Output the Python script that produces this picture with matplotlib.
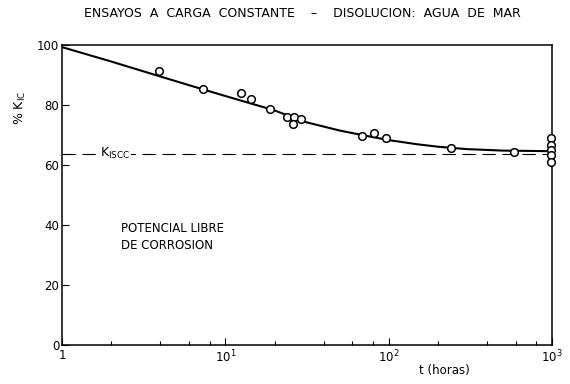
import matplotlib
matplotlib.use("Agg")
import matplotlib.pyplot as plt
from matplotlib.ticker import FixedLocator

# puntos experimentales (t en horas, % KIC)
t_pts = [3.9, 7.3, 12.4, 14.4, 18.8, 24.0, 26.5, 26.0, 28.9, 69, 81, 96, 241, 582,
         985, 985, 985, 985, 985]
k_pts = [91.2, 85.2, 83.9, 81.9, 78.8, 76.0, 76.0, 73.6, 75.4, 69.7, 70.7, 69.0, 65.5, 64.3,
         69.0, 66.7, 65.0, 63.3, 61.0]

# curva trazada a mano
t_curve = [1, 2, 4, 7, 10, 15, 20, 30, 50, 70, 100, 150, 200, 300, 500, 1000]
k_curve = [99.3, 94.5, 89.5, 85.5, 83.0, 80.2, 78.2, 74.5, 71.5, 69.9, 68.3, 66.9, 66.1, 65.3, 64.8, 64.6]

k_iscc = 63.5

plt.rcParams['font.family'] = ['DejaVu Sans']
fig = plt.figure(figsize=(5.7, 3.84), dpi=100)
ax = fig.add_axes([0.1088, 0.1016, 0.8596, 0.7812])

ax.plot(t_curve, k_curve, color='black', lw=1.5, zorder=2)
ax.plot(t_pts, k_pts, 'o', mfc='white', mec='black', ms=5.5, mew=1.1, zorder=3, clip_on=False)
ax.axhline(k_iscc, color='black', lw=0.8, dashes=(12, 6), zorder=1)
ax.text(2.1, k_iscc + 0.5, r'K$_{\rm ISCC}$', ha='center', va='center', fontsize=9,
        bbox=dict(facecolor='white', edgecolor='none', pad=1), zorder=2)

ax.text(2.3, 36, 'POTENCIAL LIBRE\nDE CORROSION', fontsize=8.5, va='center', ha='left',
        linespacing=1.4)

ax.set_xscale('log')
ax.set_xlim(1, 1000)
ax.set_ylim(0, 100)
ax.xaxis.set_major_locator(FixedLocator([1, 10, 100, 1000]))
ax.set_xticklabels(['1', r'10$^1$', r'10$^2$', r'10$^3$'])
ax.xaxis.set_minor_locator(FixedLocator([2, 4, 6, 8, 20, 40, 60, 80, 200, 400, 600, 800]))
ax.xaxis.set_minor_formatter(plt.NullFormatter())
ax.set_yticks([0, 20, 40, 60, 80, 100])
ax.tick_params(axis='both', which='major', direction='in', length=5, width=0.8, labelsize=8.5, pad=2)
ax.tick_params(axis='x', which='minor', direction='in', length=3, width=0.8)
ax.tick_params(axis='x', which='major', pad=3)
for s in ax.spines.values():
    s.set_linewidth(1.1)

ax.set_ylabel(r'% K$_{\rm IC}$', fontsize=9)
ax.yaxis.set_label_coords(-0.07, 0.79)
ax.set_xlabel('t (horas)', fontsize=8.5)
ax.xaxis.set_label_coords(0.78, -0.065)

fig.text(0.53, 0.965, 'ENSAYOS  A  CARGA  CONSTANTE    \u2013    DISOLUCION:  AGUA  DE  MAR',
         ha='center', va='center', fontsize=9)

fig.savefig('out.png', dpi=100)
